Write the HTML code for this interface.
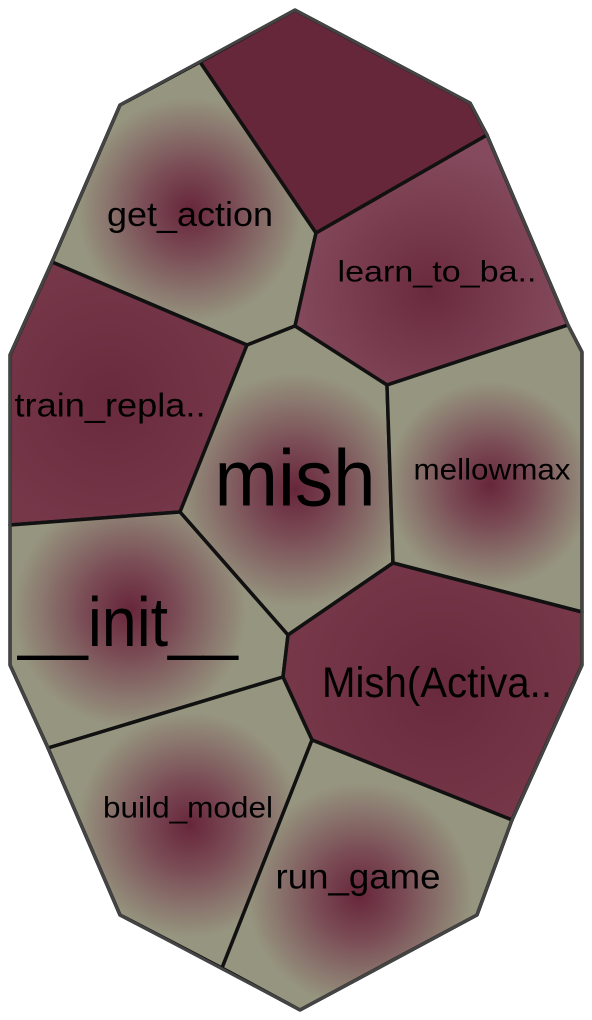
<!DOCTYPE html>
<html><head><meta charset="utf-8"><style>
html,body{margin:0;padding:0;background:#fff;}
svg{display:block;}
text{font-family:"Liberation Sans Narrow","Liberation Sans",sans-serif;fill:#000;text-anchor:middle;dominant-baseline:central;}
</style></head><body>
<svg width="592" height="1020" viewBox="0 0 592 1020" xmlns="http://www.w3.org/2000/svg">
<defs>
<radialGradient id="g1" gradientUnits="userSpaceOnUse" cx="190" cy="210" r="125"><stop offset="0" stop-color="#67263a"/><stop offset="0.35" stop-color="#7a4b55"/><stop offset="0.9" stop-color="#96957f"/></radialGradient>
<radialGradient id="g2" gradientUnits="userSpaceOnUse" cx="295" cy="490" r="130"><stop offset="0" stop-color="#67263a"/><stop offset="0.35" stop-color="#7a4b55"/><stop offset="0.9" stop-color="#96957f"/></radialGradient>
<radialGradient id="g3" gradientUnits="userSpaceOnUse" cx="490" cy="485" r="115"><stop offset="0" stop-color="#67263a"/><stop offset="0.35" stop-color="#7a4b55"/><stop offset="0.9" stop-color="#96957f"/></radialGradient>
<radialGradient id="g4" gradientUnits="userSpaceOnUse" cx="130" cy="610" r="130"><stop offset="0" stop-color="#67263a"/><stop offset="0.35" stop-color="#7a4b55"/><stop offset="0.9" stop-color="#96957f"/></radialGradient>
<radialGradient id="g5" gradientUnits="userSpaceOnUse" cx="190" cy="825" r="125"><stop offset="0" stop-color="#67263a"/><stop offset="0.35" stop-color="#7a4b55"/><stop offset="0.9" stop-color="#96957f"/></radialGradient>
<radialGradient id="g6" gradientUnits="userSpaceOnUse" cx="360" cy="895" r="125"><stop offset="0" stop-color="#67263a"/><stop offset="0.35" stop-color="#7a4b55"/><stop offset="0.9" stop-color="#96957f"/></radialGradient>
<radialGradient id="p" gradientUnits="userSpaceOnUse" cx="430" cy="290" r="140"><stop offset="0" stop-color="#6a2a3e"/><stop offset="1" stop-color="#854a5d"/></radialGradient>
<radialGradient id="q1" gradientUnits="userSpaceOnUse" cx="110" cy="400" r="140"><stop offset="0" stop-color="#692a3d"/><stop offset="1" stop-color="#763849"/></radialGradient>
<radialGradient id="q2" gradientUnits="userSpaceOnUse" cx="440" cy="690" r="150"><stop offset="0" stop-color="#692a3d"/><stop offset="1" stop-color="#763849"/></radialGradient>
</defs>
<g stroke="#111" stroke-width="3.5" stroke-linejoin="round">
<polygon points="200,62 295,10 470,103 487,135 316,233" fill="#652739"/>
<polygon points="120,105 200,62 316,233 295,326 247,345 52,262" fill="url(#g1)"/>
<polygon points="316,233 487,135 568,325 387,385 295,326" fill="url(#p)"/>
<polygon points="52,262 247,345 180,512 10,525 10,355" fill="url(#q1)"/>
<polygon points="295,326 387,385 393,563 288,635 180,512 247,345" fill="url(#g2)"/>
<polygon points="387,385 568,325 582,352 582,612 393,563" fill="url(#g3)"/>
<polygon points="10,525 180,512 288,635 283,677 48,748 10,665" fill="url(#g4)"/>
<polygon points="393,563 582,612 582,665 512,820 312,740 283,677 288,635" fill="url(#q2)"/>
<polygon points="48,748 283,677 312,740 222,968 120,915" fill="url(#g5)"/>
<polygon points="312,740 512,820 477,915 300,1010 222,968" fill="url(#g6)"/>
</g>
<polygon points="295,10 470,103 487,135 568,325 582,352 582,665 512,820 477,915 300,1010 120,915 48,748 10,665 10,355 52,262 120,105" fill="none" stroke="#444" stroke-width="3" stroke-linejoin="round"/>
<text x="190" y="215" font-size="34" textLength="166" lengthAdjust="spacingAndGlyphs">get_action</text>
<text x="437" y="272" font-size="30" textLength="199" lengthAdjust="spacingAndGlyphs">learn_to_ba..</text>
<text x="110" y="405" font-size="33" textLength="191" lengthAdjust="spacingAndGlyphs">train_repla..</text>
<text x="295" y="478" font-size="80" textLength="161" lengthAdjust="spacingAndGlyphs">mish</text>
<text x="492" y="470" font-size="30" textLength="157" lengthAdjust="spacingAndGlyphs">mellowmax</text>
<text x="128" y="622" font-size="70" textLength="220" lengthAdjust="spacingAndGlyphs">__init__</text>
<text x="437" y="683" font-size="43" textLength="230" lengthAdjust="spacingAndGlyphs">Mish(Activa..</text>
<text x="188" y="808" font-size="30" textLength="170" lengthAdjust="spacingAndGlyphs">build_model</text>
<text x="358" y="877" font-size="35" textLength="165" lengthAdjust="spacingAndGlyphs">run_game</text>
</svg>
</body></html>
